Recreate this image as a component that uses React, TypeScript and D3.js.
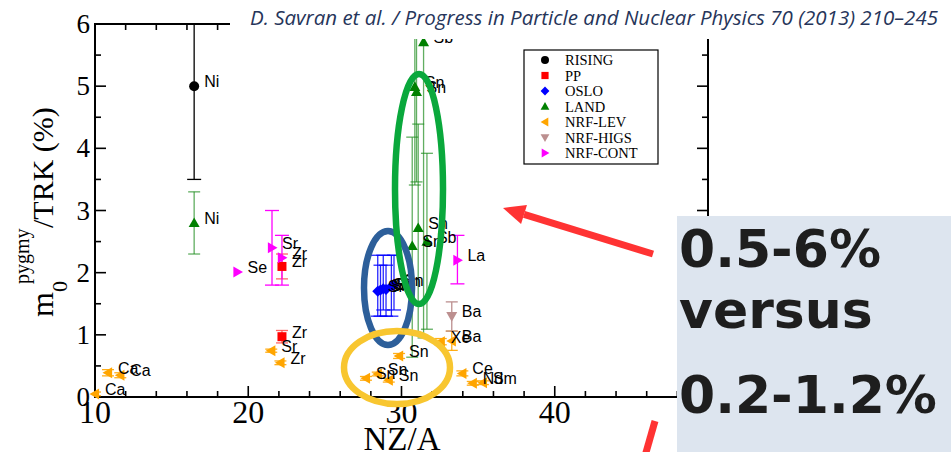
import * as d3 from 'd3'

const X_TICKS = [10, 20, 30, 40]
const Y_TICKS = [0, 1, 2, 3, 4, 5, 6]
const LEGEND = ['RISING', 'PP', 'OSLO', 'LAND', 'NRF-LEV', 'NRF-HIGS', 'NRF-CONT']

type Pt = { x: number; y: number; lo: number; hi: number; label: string }

const rising: Pt[] = [{ x: 16.47, y: 5.0, lo: 3.5, hi: 7, label: 'Ni' }]

const pp: Pt[] = [
  { x: 22.2, y: 2.1, lo: 1.9, hi: 2.3, label: 'Zr' },
  { x: 22.2, y: 0.97, lo: 0.87, hi: 1.07, label: 'Zr' },
]

const oslo: Pt[] = [
  { x: 28.45, y: 1.7, lo: 1.3, hi: 2.28, label: 'Sn' },
  { x: 28.63, y: 1.72, lo: 1.3, hi: 2.12, label: 'Sn' },
  { x: 28.81, y: 1.74, lo: 1.4, hi: 2.28, label: 'Sn' },
  { x: 28.99, y: 1.73, lo: 1.3, hi: 2.12, label: 'Sn' },
  { x: 29.34, y: 1.78, lo: 1.3, hi: 2.28, label: 'Sn' },
  { x: 29.51, y: 1.8, lo: 1.4, hi: 2.28, label: 'Sn' },
]

const land: Pt[] = [
  { x: 16.47, y: 2.8, lo: 2.3, hi: 3.3, label: 'Ni' },
  { x: 30.87, y: 4.99, lo: 3.41, hi: 7, label: 'Sn' },
  { x: 30.98, y: 4.91, lo: 3.46, hi: 7, label: 'Sn' },
  { x: 31.44, y: 5.71, lo: 0.95, hi: 7, label: 'Sb' },
  { x: 31.09, y: 2.72, lo: 1.0, hi: 4.39, label: 'Sn' },
  { x: 30.7, y: 2.43, lo: 0.64, hi: 4.18, label: 'Sn' },
  { x: 31.66, y: 2.5, lo: 1.09, hi: 3.92, label: 'Sb' },
]

const nrfLev: Pt[] = [
  { x: 10.0, y: 0.05, lo: 0.02, hi: 0.08, label: 'Ca' },
  { x: 10.85, y: 0.39, lo: 0.34, hi: 0.44, label: 'Ca' },
  { x: 11.65, y: 0.35, lo: 0.31, hi: 0.39, label: 'Ca' },
  { x: 21.5, y: 0.745, lo: 0.72, hi: 0.77, label: 'Sr' },
  { x: 22.1, y: 0.55, lo: 0.52, hi: 0.58, label: 'Zr' },
  { x: 27.68, y: 0.3, lo: 0.27, hi: 0.33, label: 'Sn' },
  { x: 28.45, y: 0.37, lo: 0.34, hi: 0.4, label: 'Sn' },
  { x: 29.17, y: 0.27, lo: 0.24, hi: 0.3, label: 'Sn' },
  { x: 29.84, y: 0.66, lo: 0.62, hi: 0.7, label: 'Sn' },
  { x: 32.56, y: 0.89, lo: 0.84, hi: 0.94, label: 'Xe' },
  { x: 33.28, y: 0.9, lo: 0.75, hi: 1.06, label: 'Ba' },
  { x: 33.97, y: 0.38, lo: 0.34, hi: 0.42, label: 'Ce' },
  { x: 34.65, y: 0.22, lo: 0.19, hi: 0.25, label: 'Nd' },
  { x: 35.31, y: 0.23, lo: 0.2, hi: 0.26, label: 'Sm' },
]

const nrfHigs: Pt[] = [{ x: 33.28, y: 1.3, lo: 1.06, hi: 1.53, label: 'Ba' }]

const nrfCont: Pt[] = [
  { x: 19.3, y: 2.01, lo: 2.01, hi: 2.01, label: 'Se' },
  { x: 21.55, y: 2.4, lo: 1.8, hi: 3.0, label: 'Sr' },
  { x: 22.2, y: 2.24, lo: 1.8, hi: 2.6, label: 'Zr' },
  { x: 33.65, y: 2.2, lo: 1.82, hi: 2.6, label: 'La' },
]

const W = 951
const H = 452
const x = d3.scaleLinear().domain([10, 50]).range([95, 708])
const y = d3.scaleLinear().domain([0, 6]).range([397, 24])

const a = 5.5
const shapes: Record<string, (s: number) => string> = {
  circle: (s) => `M${-5 * s},0a${5 * s},${5 * s} 0 1,0 ${10 * s},0a${5 * s},${5 * s} 0 1,0 ${-10 * s},0Z`,
  square: (s) => `M${-4.5 * s},${-4.5 * s}h${9 * s}v${9 * s}h${-9 * s}Z`,
  diamond: (s) => `M0,${-a * s}L${a * s},0L0,${a * s}L${-a * s},0Z`,
  up: (s) => `M0,${-a * s}L${a * s},${a * 0.75 * s}L${-a * s},${a * 0.75 * s}Z`,
  left: (s) => `M${-a * s},0L${a * 0.75 * s},${-a * s}L${a * 0.75 * s},${a * s}Z`,
  down: (s) => `M0,${a * s}L${a * s},${-a * 0.75 * s}L${-a * s},${-a * 0.75 * s}Z`,
  right: (s) => `M${a * s},0L${-a * 0.75 * s},${-a * s}L${-a * 0.75 * s},${a * s}Z`,
}

const series = [
  { name: 'RISING', data: rising, shape: 'circle', color: '#000000', bar: '#000000', op: 1, cap: 7 },
  { name: 'PP', data: pp, shape: 'square', color: '#ff0000', bar: '#ff4040', op: 0.8, cap: 6 },
  { name: 'OSLO', data: oslo, shape: 'diamond', color: '#0000ff', bar: '#0000ff', op: 0.85, cap: 7 },
  { name: 'LAND', data: land, shape: 'up', color: '#008000', bar: '#1e8c1e', op: 0.7, cap: 6 },
  { name: 'NRF-LEV', data: nrfLev, shape: 'left', color: '#ffa500', bar: '#ffa500', op: 0.9, cap: 6 },
  { name: 'NRF-HIGS', data: nrfHigs, shape: 'down', color: '#bc8f8f', bar: '#bc8f8f', op: 1, cap: 6 },
  { name: 'NRF-CONT', data: nrfCont, shape: 'right', color: '#ff00ff', bar: '#ff00ff', op: 1, cap: 7 },
]

const xMinor = d3.range(10, 50.01, 2)
const yMinor = d3.range(0, 6.01, 0.5)

export default function App() {
  const serif = '"Liberation Serif", "DejaVu Serif", serif'
  const sans = '"Liberation Sans", Arial, sans-serif'
  // arrow geometry (annotation)
  const tail: [number, number] = [653, 254]
  const tip: [number, number] = [503, 208]
  const dx = tip[0] - tail[0]
  const dy = tip[1] - tail[1]
  const len = Math.hypot(dx, dy)
  const ux = dx / len
  const uy = dy / len
  const bx = tip[0] - 22 * ux
  const by = tip[1] - 22 * uy
  const head = `M${tip[0]},${tip[1]}L${bx - 10 * uy},${by + 10 * ux}L${bx + 10 * uy},${by - 10 * ux}Z`

  return (
    <svg width={W} height={H} style={{ position: 'absolute', left: 0, top: 0, background: '#fff' }}>
      <defs>
        <clipPath id="plot">
          <rect x={95} y={24} width={613} height={373} />
        </clipPath>
      </defs>
      <rect width={W} height={H} fill="#fff" />

      {/* axes frame */}
      <g stroke="#000" strokeWidth={2} fill="none">
        <line x1={95} x2={95} y1={23} y2={398} />
        <line x1={94} x2={709} y1={397} y2={397} />
        <line x1={94} x2={709} y1={24} y2={24} />
        <line x1={708} x2={708} y1={23} y2={398} />
      </g>
      <g stroke="#000" strokeWidth={1.6}>
        {xMinor.map((v) => {
          const major = v % 10 === 0
          const l = major ? 11 : 6
          return (
            <g key={'xt' + v}>
              <line x1={x(v)} x2={x(v)} y1={397} y2={397 - l} />
              <line x1={x(v)} x2={x(v)} y1={24} y2={24 + l} />
            </g>
          )
        })}
        {yMinor.map((v) => {
          const major = v % 1 === 0
          const l = major ? 11 : 6
          return (
            <g key={'yt' + v}>
              <line x1={95} x2={95 + l} y1={y(v)} y2={y(v)} />
              <line x1={708} x2={708 - l} y1={y(v)} y2={y(v)} />
            </g>
          )
        })}
      </g>
      <g fontFamily={serif} fontSize={27} fill="#000" textAnchor="end">
        {Y_TICKS.map((v) => (
          <text key={'yl' + v} x={90} y={y(v) + 9}>
            {v}
          </text>
        ))}
      </g>
      <g fontFamily={serif} fontSize={32} fill="#000" textAnchor="middle">
        {X_TICKS.map((v) => (
          <text key={'xl' + v} x={x(v)} y={423}>
            {v}
          </text>
        ))}
      </g>
      <text x={402} y={450} fontFamily={serif} fontSize={33} textAnchor="middle">
        NZ/A
      </text>
      <g transform="translate(53,317) rotate(-90)" fontFamily={serif} fill="#000">
        <text x={0} y={0} fontSize={32}>m</text>
        <text x={25} y={14} fontSize={22}>0</text>
        <text x={33} y={-24} fontSize={20}>pygmy</text>
        <text x={89} y={0} fontSize={30}>/TRK (%)</text>
      </g>

      {/* error bars */}
      <g clipPath="url(#plot)">
        {series.map((s) =>
          s.data
            .filter((d) => d.hi > d.lo)
            .map((d, i) => (
              <g key={s.name + 'e' + i} stroke={s.bar} strokeOpacity={s.op} strokeWidth={1.3}>
                <line x1={x(d.x)} x2={x(d.x)} y1={y(d.lo)} y2={y(d.hi)} />
                <line x1={x(d.x) - s.cap} x2={x(d.x) + s.cap} y1={y(d.lo)} y2={y(d.lo)} />
                <line x1={x(d.x) - s.cap} x2={x(d.x) + s.cap} y1={y(d.hi)} y2={y(d.hi)} />
              </g>
            ))
        )}
      </g>

      {/* markers */}
      {series.map((s) =>
        s.data.map((d, i) => (
          <path key={s.name + 'm' + i} d={shapes[s.shape](1)} transform={`translate(${x(d.x)},${y(d.y)})`} fill={s.color} />
        ))
      )}

      {/* labels */}
      <g fontFamily={sans} fontSize={16} fill="#000">
        {series.map((s) =>
          s.data.map((d, i) => (
            <text key={s.name + 'l' + i} x={x(d.x) + 10} y={y(d.y) + 1}>
              {d.label}
            </text>
          ))
        )}
      </g>

      {/* legend */}
      <rect x={524} y={50} width={134} height={114} fill="#fff" stroke="#000" strokeWidth={1.2} />
      {series.map((s, i) => (
        <g key={'lg' + s.name} transform={`translate(0,${60 + i * 15.5})`}>
          <path d={shapes[s.shape](0.8)} transform="translate(545,0)" fill={s.color} />
          <text x={565} y={5} fontFamily={serif} fontSize={14.5}>
            {LEGEND[i]}
          </text>
        </g>
      ))}

      {/* journal header */}
      <rect x={230} y={0} width={721} height={39} fill="#fff" />
      <text
        x={250}
        y={25}
        fontFamily='"Open Sans", sans-serif'
        fontStyle="italic"
        fontSize={20}
        fill="#26355a"
        textLength={688}
        lengthAdjust="spacingAndGlyphs"
      >
        D. Savran et al. / Progress in Particle and Nuclear Physics 70 (2013) 210–245
      </text>

      {/* highlight ellipses */}
      <g fill="none" strokeWidth={6.5}>
        <ellipse cx={388} cy={288} rx={24} ry={57} stroke="#2d5f9a" />
        <ellipse cx={419} cy={189} rx={24} ry={115} stroke="#0aa83c" />
        <ellipse cx={397} cy={367.5} rx={53} ry={36.5} stroke="#f8c630" />
      </g>

      {/* red arrows */}
      <line x1={tail[0]} y1={tail[1]} x2={bx} y2={by} stroke="#ff3333" strokeWidth={7} />
      <path d={head} fill="#ff3333" />
      <line x1={655} y1={421} x2={645} y2={456} stroke="#ff3333" strokeWidth={7} />

      {/* summary box */}
      <rect x={677} y={216} width={274} height={236} fill="#dde5ef" />
      <g fontFamily='"DejaVu Sans", sans-serif' fontWeight="bold" fontSize={52} fill="#1e1e1e">
        <text x={679} y={267}>0.5-6%</text>
        <text x={679} y={328}>versus</text>
        <text x={679} y={413}>0.2-1.2%</text>
      </g>
    </svg>
  )
}
